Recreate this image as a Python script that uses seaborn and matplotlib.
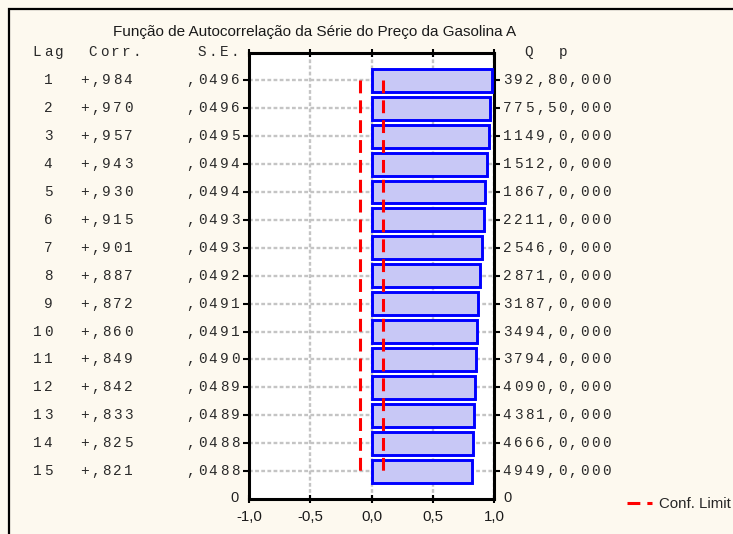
import numpy as np
import pandas as pd
import seaborn as sns
import matplotlib
matplotlib.use("Agg")
import matplotlib.pyplot as plt
from matplotlib.lines import Line2D
from matplotlib.patches import Rectangle
from matplotlib.transforms import blended_transform_factory

# Autocorrelation of the gasoline A price series
lags = [1, 2, 3, 4, 5, 6, 7, 8, 9, 10, 11, 12, 13, 14, 15]
corr = [0.984, 0.970, 0.957, 0.943, 0.930, 0.915, 0.901, 0.887,
        0.872, 0.860, 0.849, 0.842, 0.833, 0.825, 0.821]
se = [0.0496, 0.0496, 0.0495, 0.0494, 0.0494, 0.0493, 0.0493, 0.0492,
      0.0491, 0.0491, 0.0490, 0.0489, 0.0489, 0.0488, 0.0488]
q_labels = ["392,8", "775,5", "1149,", "1512,", "1867,", "2211,", "2546,",
            "2871,", "3187,", "3494,", "3794,", "4090,", "4381,", "4666,",
            "4949,"]
p_labels = ["0,000"] * 15
x_ticks = [-1.0, -0.5, 0.0, 0.5, 1.0]
x_tick_labels = ["-1,0", "-0,5", "0,0", "0,5", "1,0"]
title = "Função de Autocorrelação da Série do Preço da Gasolina A"

df = pd.DataFrame({"lag": lags, "corr": corr, "se": se})
conf = 1.96 * df["se"]

W, H = 733, 534
BG = "#fdf9ef"
SANS = "Liberation Sans"
MONO = "Liberation Mono"
INK = "#1a1a1a"

sns.set_style("white")
plt.rcParams["font.family"] = [SANS, "DejaVu Sans"]

fig = plt.figure(figsize=(W / 100, H / 100), dpi=100, facecolor=BG)


def fx(px):
    return px / W


def fy(py):
    return 1 - py / H


# plot area in pixel coordinates
left, right, top, bottom = 249, 494, 52.5, 499
ax = fig.add_axes([fx(left), fy(bottom), fx(right - left), (bottom - top) / H])
ax.set_facecolor("white")

sns.barplot(data=df, x="corr", y="lag", orient="h", native_scale=True,
            color="#c8c8f6", edgecolor="#0000ff", linewidth=2.1,
            width=0.82, saturation=1, errorbar=None, ax=ax, zorder=3)

for sign in (-1, 1):
    ax.plot(sign * conf, df["lag"], color="#ff0000", lw=2.2, dashes=(4.2, 2.3),
            drawstyle="steps-mid", zorder=4)

ax.set_xlim(-1, 1)
ax.set_ylim(16, 0)
ax.set_xticks(x_ticks)
ax.set_xticklabels([])
ax.set_yticks(lags)
ax.set_yticklabels([])
ax.set_xlabel("")
ax.set_ylabel("")

ax.grid(True, color="#c4c4c4", lw=1.7, linestyle=(0, (1.6, 1.0)), zorder=0)
ax.set_axisbelow(True)
for s in ax.spines.values():
    s.set_visible(True)
    s.set_color("black")
    s.set_linewidth(2.2)
ax.tick_params(axis="x", which="both", direction="inout", length=6, width=1.5,
               top=True, bottom=True, color="black")
ax.tick_params(axis="y", which="both", direction="out", length=4, width=1.5,
               left=True, right=True, color="black")

# x tick labels
for v, lab in zip(x_ticks, x_tick_labels):
    fig.text(fx(left + (v + 1) / 2 * (right - left)), fy(517), lab,
             ha="center", va="center", fontsize=10.8, family=SANS, color=INK)

# title
fig.text(fx(314.5), fy(32), title, ha="center", va="center",
         fontsize=11, family=SANS, color=INK)

# monospaced table with wide character pitch
PITCH = 11.0
HALF = 4.0
rowtr = blended_transform_factory(fig.transFigure, ax.transData)


def spaced(x, y, s, align="left", trans=None):
    n = len(s)
    for i, ch in enumerate(s):
        if align == "left":
            cx = x + HALF + i * PITCH
        else:
            cx = x - HALF - (n - 1 - i) * PITCH
        if trans is None:
            fig.text(fx(cx), fy(y), ch, ha="center", va="center",
                     fontsize=10.4, family=MONO, color="#2a2a2a")
        else:
            fig.text(fx(cx), y, ch, ha="center", va="center",
                     fontsize=10.4, family=MONO, color="#2a2a2a", transform=trans)


spaced(33, 52, "Lag")
spaced(89, 52, "Corr.")
spaced(239, 52, "S.E.", align="right")
spaced(525, 52, "Q")
spaced(559, 52, "p")

for lag, c, s, q, p in zip(lags, corr, se, q_labels, p_labels):
    spaced(52, lag, str(lag), align="right", trans=rowtr)
    spaced(80, lag, "+," + f"{c:.3f}"[2:], trans=rowtr)
    spaced(239, lag, "," + f"{s:.4f}"[2:], align="right", trans=rowtr)
    spaced(503, lag, q + p, trans=rowtr)

# zero labels at the bottom of both lag scales
fig.text(fx(239), fy(498.5), "0", ha="right", va="center",
         fontsize=10.5, family=SANS, color="#222222")
fig.text(fx(503), fy(498.5), "0", ha="left", va="center",
         fontsize=10.5, family=SANS, color="#222222")

# legend
handle = Line2D([], [], color="#ff0000", lw=2.2, dashes=(4.2, 2.3))
fig.legend([handle], ["Conf. Limit"], loc="center left",
           bbox_to_anchor=(fx(627), fy(504)), frameon=False, borderpad=0,
           borderaxespad=0, handlelength=1.65, handletextpad=0.5,
           prop={"family": SANS, "size": 10.8})

# outer frame
fig.patches.append(Rectangle((fx(9), fy(H + 20)), 1, fy(9) - fy(H + 20),
                             transform=fig.transFigure, fill=False,
                             edgecolor="black", lw=1.6))

fig.savefig("out.png", dpi=100, facecolor=BG)
